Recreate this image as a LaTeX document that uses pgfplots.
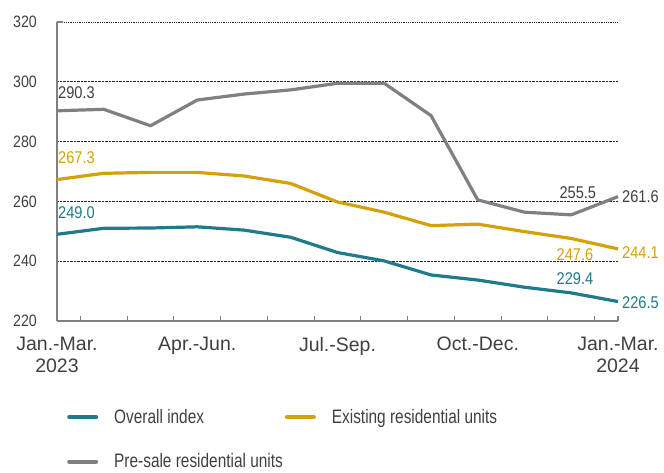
\documentclass[border=0pt]{standalone}
\usepackage{pgfplots}
\pgfplotsset{compat=1.18}
\usepackage{fontspec}
\setmainfont{Liberation Sans}
\newfontfamily\narrowfont{Liberation Sans}[FakeStretch=0.86]
\newfontfamily\legfont{Liberation Sans}[FakeStretch=0.79]
\definecolor{cteal}{RGB}{31,122,140}
\definecolor{cgold}{RGB}{212,161,10}
\definecolor{cgray}{RGB}{128,128,128}
\definecolor{ctxt}{RGB}{64,64,64}
\begin{document}
\begin{tikzpicture}
\useasboundingbox (0,0) rectangle (664pt,472pt);
\begin{axis}[
  at={(57pt,151pt)}, anchor=south west,
  scale only axis, width=561pt, height=299pt,
  xmin=0, xmax=12, ymin=220, ymax=320,
  clip=false,
  axis x line=bottom, axis y line=left,
  axis line style={cgray, line width=1.6pt, -},
  xtick={0,3,6,9,12},
  xticklabels={{Jan.-Mar.\\2023},{Apr.-Jun.},{Jul.-Sep.},{Oct.-Dec.},{Jan.-Mar.\\2024}},
  minor xtick={0.5,1.5,...,11.5,12},
  major tick length=0pt,
  minor tick length=5pt,
  tick align=inside,
  minor tick style={cgray, line width=1.2pt},
  x tick label style={font=\fontsize{19.5}{22}\selectfont, align=center, text=ctxt, anchor=north, inner sep=0pt},
  xticklabel shift=16pt,
  ytick={220,240,...,300},
  extra y ticks={320},
  extra y tick style={grid style={gray!25, densely dotted, line width=0.8pt}, major tick length=6pt, tick style={cgray, line width=1.4pt}},
  ymajorgrids,
  major grid style={black!85, densely dotted, line width=0.8pt},
  y tick label style={font=\fontsize{16.5}{17}\narrowfont, text=ctxt, inner sep=0pt, anchor=east},
  yticklabel={\pgfmathprintnumber[fixed,assume math mode=true]{\tick}\hspace*{20pt}},
  legend style={at={(axis description cs:0,0)}, anchor=north west, xshift=7pt, yshift=-84pt,
    draw=none, fill=none, font=\fontsize{19.5}{20}\legfont, text=ctxt,
    row sep=25pt, cells={anchor=west}},
  legend columns=2,
  legend image code/.code={\draw[#1, line width=4pt, line cap=round] (0pt,0pt) -- (27pt,0pt);},
  every axis plot/.append style={line width=3.2pt, line join=round},
]
\addplot[cteal, mark=none] coordinates {
(0,249.0) (1,251.0) (2,251.1) (3,251.5) (4,250.4) (5,248.0) (6,242.9) (7,240.1) (8,235.4) (9,233.7) (10,231.3) (11,229.4) (12,226.5)};
\addlegendentry{\makebox[165pt][l]{\hspace{14pt}Overall index}}
\addplot[cgold, mark=none] coordinates {
(0,267.3) (1,269.4) (2,269.7) (3,269.7) (4,268.5) (5,266.0) (6,259.8) (7,256.4) (8,251.9) (9,252.4) (10,249.9) (11,247.6) (12,244.1)};
\addlegendentry{\hspace{14pt}Existing residential units}
\addplot[cgray, mark=none] coordinates {
(0,290.3) (1,290.8) (2,285.3) (3,293.9) (4,295.9) (5,297.3) (6,299.5) (7,299.5) (8,288.7) (9,260.5) (10,256.4) (11,255.5) (12,261.6)};
\addlegendentry{\hspace{14pt}Pre-sale residential units}
\begin{scope}[font=\fontsize{17}{17}\narrowfont]
\node[anchor=west, text=ctxt, inner sep=0pt, xshift=1pt] at (axis cs:0,296.3) {290.3};
\node[anchor=west, text=cgold, inner sep=0pt, xshift=1pt] at (axis cs:0,274.8) {267.3};
\node[anchor=west, text=cteal, inner sep=0pt, xshift=1pt] at (axis cs:0,256.1) {249.0};
\node[text=ctxt, inner sep=0pt] at (axis cs:11.14,262.8) {255.5};
\node[anchor=west, text=ctxt, inner sep=0pt, xshift=4pt] at (axis cs:12,261.5) {261.6};
\node[text=cgold, inner sep=0pt] at (axis cs:11.08,242.1) {247.6};
\node[anchor=west, text=cgold, inner sep=0pt, xshift=4pt] at (axis cs:12,242.8) {244.1};
\node[text=cteal, inner sep=0pt] at (axis cs:11.08,234.3) {229.4};
\node[anchor=west, text=cteal, inner sep=0pt, xshift=4pt] at (axis cs:12,226.1) {226.5};
\end{scope}
\end{axis}
\end{tikzpicture}
\end{document}
